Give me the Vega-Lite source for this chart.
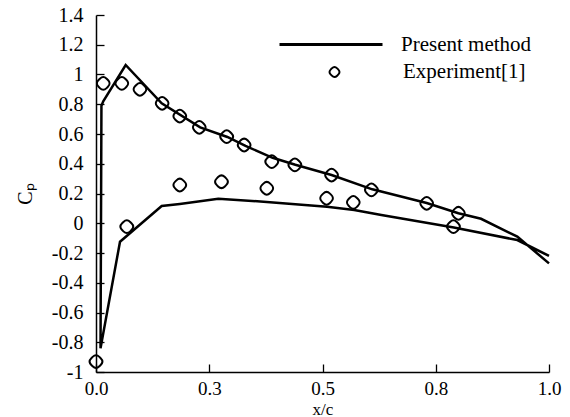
{
  "$schema": "https://vega.github.io/schema/vega-lite/v6.json",
  "width": 453,
  "height": 357,
  "autosize": {"type": "none"},
  "padding": {"left": 96, "top": 15, "right": 21, "bottom": 45},
  "background": "white",
  "config": {
    "view": {"stroke": null},
    "font": "Liberation Serif",
    "axis": {
      "labelFont": "Liberation Serif",
      "titleFont": "Liberation Serif",
      "labelFontSize": 20,
      "titleFontSize": 20,
      "titleFontWeight": "normal",
      "labelColor": "black",
      "titleColor": "black",
      "domainColor": "black",
      "tickColor": "black",
      "domainWidth": 1.5,
      "tickWidth": 1.3,
      "tickSize": -8,
      "labelOverlap": false,
      "labelFlush": false,
      "grid": false
    },
    "legend": {
      "labelFont": "Liberation Serif",
      "labelFontSize": 21,
      "labelColor": "black"
    }
  },
  "encoding": {
    "x": {
      "field": "x", "type": "quantitative",
      "scale": {"domain": [0, 1], "nice": false, "zero": false},
      "axis": {
        "values": [0, 0.25, 0.5, 0.75, 1],
        "format": ".1f",
        "title": "x/c",
        "labelPadding": 15,
        "labelFontSize": 19,
        "labelFlush": false,
        "labelOverlap": false,
        "titleFontSize": 17,
        "titleBaseline": "alphabetic",
        "titleY": 42
      }
    },
    "y": {
      "field": "y", "type": "quantitative",
      "scale": {"domain": [-1, 1.4], "nice": false, "zero": false},
      "axis": {
        "values": [-1, -0.8, -0.6, -0.4, -0.2, 0, 0.2, 0.4, 0.6, 0.8, 1, 1.2, 1.4],
        "labelExpr": "'' + datum.value",
        "labelOverlap": false,
        "labelFlush": false,
        "title": "Cₚ",
        "labelPadding": 21,
        "titlePadding": 16
      }
    }
  },
  "layer": [
    {
      "data": {
        "values": [
          {"x": 1.0, "y": -0.27, "o": 1, "m": "Present method"},
          {"x": 0.93, "y": -0.09, "o": 2, "m": "Present method"},
          {"x": 0.85, "y": 0.03, "o": 3, "m": "Present method"},
          {"x": 0.80, "y": 0.067, "o": 4, "m": "Present method"},
          {"x": 0.73, "y": 0.136, "o": 5, "m": "Present method"},
          {"x": 0.61, "y": 0.228, "o": 6, "m": "Present method"},
          {"x": 0.52, "y": 0.324, "o": 7, "m": "Present method"},
          {"x": 0.44, "y": 0.393, "o": 8, "m": "Present method"},
          {"x": 0.39, "y": 0.44, "o": 9, "m": "Present method"},
          {"x": 0.33, "y": 0.52, "o": 10, "m": "Present method"},
          {"x": 0.29, "y": 0.58, "o": 11, "m": "Present method"},
          {"x": 0.23, "y": 0.645, "o": 12, "m": "Present method"},
          {"x": 0.145, "y": 0.806, "o": 13, "m": "Present method"},
          {"x": 0.0655, "y": 1.064, "o": 14, "m": "Present method"},
          {"x": 0.016, "y": 0.82, "o": 15, "m": "Present method"},
          {"x": 0.012, "y": 0.79, "o": 16, "m": "Present method"},
          {"x": 0.01, "y": -0.84, "o": 17, "m": "Present method"},
          {"x": 0.053, "y": -0.124, "o": 18, "m": "Present method"},
          {"x": 0.145, "y": 0.116, "o": 19, "m": "Present method"},
          {"x": 0.185, "y": 0.13, "o": 20, "m": "Present method"},
          {"x": 0.27, "y": 0.165, "o": 21, "m": "Present method"},
          {"x": 0.37, "y": 0.145, "o": 22, "m": "Present method"},
          {"x": 0.51, "y": 0.111, "o": 23, "m": "Present method"},
          {"x": 0.57, "y": 0.089, "o": 24, "m": "Present method"},
          {"x": 0.63, "y": 0.055, "o": 25, "m": "Present method"},
          {"x": 0.79, "y": -0.028, "o": 26, "m": "Present method"},
          {"x": 0.93, "y": -0.113, "o": 27, "m": "Present method"},
          {"x": 1.0, "y": -0.22, "o": 28, "m": "Present method"}
        ]
      },
      "mark": {"type": "line", "strokeWidth": 2.5, "strokeJoin": "miter"},
      "encoding": {
        "order": {"field": "o", "type": "quantitative"},
        "stroke": {
          "field": "m", "type": "nominal",
          "scale": {"domain": ["Present method"], "range": ["black"]},
          "legend": {
            "title": null,
            "orient": "none",
            "legendX": 182,
            "legendY": -23.5,
            "padding": 0,
            "symbolType": "stroke",
            "symbolSize": 10609,
            "symbolStrokeWidth": 3,
            "labelOffset": 17
          }
        }
      }
    },
    {
      "data": {
        "values": [
          {"x": 0.016, "y": 0.94, "e": "Experiment[1]"},
          {"x": 0.057, "y": 0.94, "e": "Experiment[1]"},
          {"x": 0.097, "y": 0.90, "e": "Experiment[1]"},
          {"x": 0.146, "y": 0.806, "e": "Experiment[1]"},
          {"x": 0.185, "y": 0.72, "e": "Experiment[1]"},
          {"x": 0.228, "y": 0.645, "e": "Experiment[1]"},
          {"x": 0.2885, "y": 0.582, "e": "Experiment[1]"},
          {"x": 0.327, "y": 0.526, "e": "Experiment[1]"},
          {"x": 0.388, "y": 0.414, "e": "Experiment[1]"},
          {"x": 0.439, "y": 0.392, "e": "Experiment[1]"},
          {"x": 0.520, "y": 0.324, "e": "Experiment[1]"},
          {"x": 0.608, "y": 0.224, "e": "Experiment[1]"},
          {"x": 0.730, "y": 0.134, "e": "Experiment[1]"},
          {"x": 0.800, "y": 0.067, "e": "Experiment[1]"},
          {"x": 0.0, "y": -0.93, "e": "Experiment[1]"},
          {"x": 0.068, "y": -0.023, "e": "Experiment[1]"},
          {"x": 0.185, "y": 0.257, "e": "Experiment[1]"},
          {"x": 0.277, "y": 0.279, "e": "Experiment[1]"},
          {"x": 0.377, "y": 0.235, "e": "Experiment[1]"},
          {"x": 0.509, "y": 0.168, "e": "Experiment[1]"},
          {"x": 0.568, "y": 0.14, "e": "Experiment[1]"},
          {"x": 0.789, "y": -0.023, "e": "Experiment[1]"}
        ]
      },
      "mark": {"type": "point", "filled": false, "stroke": "black", "strokeWidth": 2, "size": 260, "opacity": 1},
      "encoding": {
        "shape": {
          "field": "e", "type": "nominal",
          "scale": {
            "domain": ["Experiment[1]"],
            "range": ["M-0.42,-0.58 Q0,-1 0.42,-0.58 L0.58,-0.42 Q1,0 0.58,0.42 L0.42,0.58 Q0,1 -0.42,0.58 L-0.58,0.42 Q-1,0 -0.58,-0.42 Z"]
          },
          "legend": {
            "title": null,
            "orient": "none",
            "legendX": 228,
            "legendY": 46.5,
            "padding": 0,
            "symbolSize": 160,
            "symbolStrokeWidth": 2,
            "symbolStrokeColor": "black",
            "symbolFillColor": "transparent",
            "labelOffset": 58
          }
        }
      }
    }
  ]
}
